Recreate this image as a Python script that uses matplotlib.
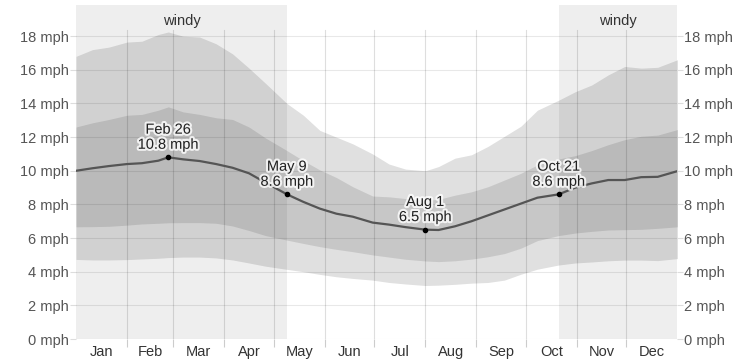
import matplotlib.pyplot as plt
import matplotlib.patheffects as pe
import numpy as np

# day of year (0 = Jan 1) and wind speed percentiles in mph
days = [0, 10, 20, 31, 40, 50, 56, 65, 75, 85, 95, 105, 115, 128, 138, 148, 158, 168,
        180, 190, 200, 212, 220, 230, 240, 250, 260, 270, 280, 293, 303, 313, 323, 333,
        343, 353, 365]
p90 = [16.8, 17.2, 17.35, 17.65, 17.7, 18.1, 18.25, 18.0, 17.95, 17.55, 16.95, 16.1, 15.2,
       14.0, 13.3, 12.4, 12.0, 11.6, 11.0, 10.4, 10.1, 10.0, 10.25, 10.75, 10.95, 11.45,
       12.05, 12.65, 13.6, 14.2, 14.7, 15.1, 15.7, 16.2, 16.1, 16.15, 16.6]
p75 = [12.6, 12.85, 13.05, 13.3, 13.35, 13.6, 13.8, 13.5, 13.35, 13.15, 13.05, 12.6, 11.95,
       11.2, 10.6, 10.05, 9.6, 9.05, 8.5, 8.45, 8.35, 8.25, 8.3, 8.55, 8.75, 9.05, 9.45,
       9.85, 10.35, 10.7, 10.9, 11.2, 11.55, 11.85, 12.05, 12.12, 12.45]
mean = [10.0, 10.15, 10.28, 10.4, 10.45, 10.6, 10.8, 10.68, 10.58, 10.4, 10.18, 9.85, 9.3,
        8.6, 8.15, 7.75, 7.45, 7.27, 6.92, 6.8, 6.65, 6.5, 6.48, 6.7, 7.0, 7.35, 7.7, 8.05,
        8.4, 8.6, 9.0, 9.25, 9.45, 9.45, 9.62, 9.64, 9.98]
p25 = [6.67, 6.68, 6.7, 6.77, 6.84, 6.88, 6.91, 6.92, 6.92, 6.88, 6.72, 6.45, 6.15, 5.88,
       5.68, 5.49, 5.33, 5.19, 5.0, 4.87, 4.74, 4.64, 4.6, 4.65, 4.75, 4.89, 5.08, 5.4, 5.85,
       6.15, 6.3, 6.4, 6.48, 6.5, 6.52, 6.58, 6.67]
p10 = [4.73, 4.7, 4.7, 4.72, 4.76, 4.8, 4.84, 4.87, 4.87, 4.82, 4.7, 4.52, 4.33, 4.14, 4.0,
       3.84, 3.7, 3.6, 3.5, 3.36, 3.27, 3.18, 3.2, 3.25, 3.32, 3.36, 3.5, 3.85, 4.15, 4.4,
       4.52, 4.58, 4.65, 4.69, 4.69, 4.66, 4.78]

months = ['Jan', 'Feb', 'Mar', 'Apr', 'May', 'Jun', 'Jul', 'Aug', 'Sep', 'Oct', 'Nov', 'Dec']
month_len = [31, 28, 31, 30, 31, 30, 31, 31, 30, 31, 30, 31]

windy_periods = [(0, 128), (293, 365)]

ann_days = [56, 128, 212, 293]
ann_vals = [10.8, 8.6, 6.5, 8.6]
ann_labels = ['Feb 26', 'May 9', 'Aug 1', 'Oct 21']

yticks = [0, 2, 4, 6, 8, 10, 12, 14, 16, 18]

plt.rcParams['font.family'] = ['Liberation Sans', 'DejaVu Sans']

fig = plt.figure(figsize=(7.53, 3.62), dpi=100)
ax = fig.add_axes([0.1009, 0.0635, 0.7988, 0.9225])
ax.set_xlim(0, 365)
ax.set_ylim(0, 19.85)

for a, b in windy_periods:
    ax.axvspan(a, b, color='black', alpha=0.065, lw=0, zorder=0)
    ax.text((a + b) / 2, 0.953, 'windy', transform=ax.get_xaxis_transform(),
            ha='center', va='center', fontsize=10.5, color='#333333', zorder=6)

ax.fill_between(days, p10, p90, color='black', alpha=0.12, lw=0, zorder=1)
ax.fill_between(days, p25, p75, color='black', alpha=0.11, lw=0, zorder=2)

# grid
for y in yticks:
    ax.axhline(y, color='black', alpha=0.09, lw=0.8, zorder=3)
starts = np.cumsum([0] + month_len)
top_frac = 18.36 / 19.85
for s in starts[1:-1]:
    ax.axvline(s, ymin=0, ymax=top_frac, color='black', alpha=0.13, lw=0.8, zorder=3)

ax.plot(days, mean, color='#555555', lw=1.6, zorder=4)

ax.scatter(ann_days, ann_vals, s=9, color='black', zorder=5)
for d, v, lab in zip(ann_days, ann_vals, ann_labels):
    t = ax.annotate(f'{lab}\n{v} mph', (d, v), xytext=(0, 4), textcoords='offset points',
                    ha='center', va='bottom', fontsize=10.5, color='#222222',
                    linespacing=1.1, zorder=6)
    t.set_path_effects([pe.withStroke(linewidth=3, foreground='white', alpha=0.8)])

# axes styling
for sp in ax.spines.values():
    sp.set_visible(False)
ax.set_yticks(yticks)
ax.set_yticklabels([f'{y} mph' for y in yticks])
ax.tick_params(axis='y', which='both', left=True, right=True, labelleft=True, labelright=True,
               length=4, width=0.8, color='#dddddd', labelcolor='#555555', labelsize=10.5, pad=1)

ax.set_xticks(starts[1:-1])
ax.set_xticklabels([])
ax.set_xticks(starts[:-1] + np.array(month_len) / 2, minor=True)
ax.set_xticklabels(months, minor=True)
ax.tick_params(axis='x', which='major', length=6, width=0.8, color='#cccccc')
ax.tick_params(axis='x', which='minor', length=0, labelsize=10.5, labelcolor='#333333', pad=4)

fig.savefig('out.png', dpi=100)
